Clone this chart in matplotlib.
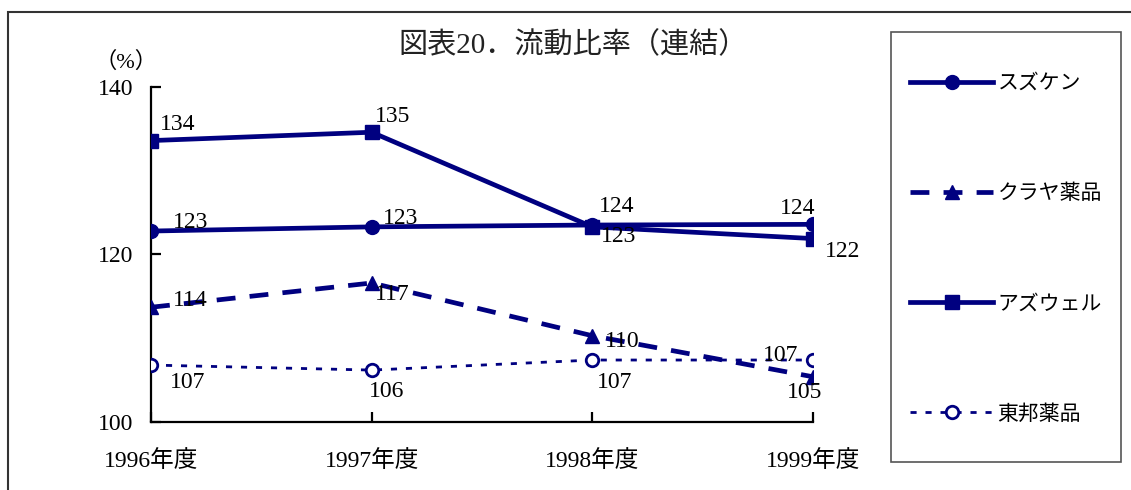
import matplotlib
matplotlib.use("Agg")
import matplotlib.pyplot as plt
from matplotlib.patches import Rectangle

plt.rcParams['font.family'] = ['Liberation Serif', 'Noto Sans CJK JP']

years = ["1996年度", "1997年度", "1998年度", "1999年度"]
suzuken = [122.8, 123.3, 123.52, 123.6]
kuraya = [113.7, 116.6, 110.3, 105.4]
azwell = [133.6, 134.6, 123.3, 121.9]
toho = [106.8, 106.2, 107.4, 107.4]

navy = "#000080"
x = list(range(len(years)))

fig = plt.figure(figsize=(11.31, 4.90), dpi=100)
ax = fig.add_axes([151 / 1131, 68 / 490, 662 / 1131, 335 / 490])

ax.plot(x, suzuken, color=navy, lw=3.4, marker='o', ms=10, label="スズケン", zorder=3)
ax.plot(x, kuraya, color=navy, lw=3.4, ls=(0, (4, 3)), marker='^', ms=10,
        label="クラヤ薬品", zorder=3)
ax.plot(x, azwell, color=navy, lw=3.4, marker='s', ms=10, label="アズウェル", zorder=3)
ax.plot(x, toho, color=navy, lw=2.0, ls=(0, (2.2, 3.2)), marker='o', ms=9,
        mfc='white', mec=navy, mew=2, label="東邦薬品", zorder=3)

# value labels: (dx, dy, ha) in pixels relative to each point
offs = {
    "suzuken": [(22, 9, 'left'), (11, 8, 'left'), (7, 19, 'left'), (2, 16, 'right')],
    "azwell": [(9, 16, 'left'), (3, 16, 'left'), (9, -10, 'left'), (12, -13, 'left')],
    "kuraya": [(22, 7, 'left'), (3, -12, 'left'), (13, -6, 'left'), (-8, -16, 'center')],
    "toho": [(19, -17, 'left'), (15, -21, 'center'), (22, -22, 'center'), (-15, 5, 'right')],
}
for key, vals in [("suzuken", suzuken), ("azwell", azwell), ("kuraya", kuraya), ("toho", toho)]:
    for i, v in enumerate(vals):
        dx, dy, ha = offs[key][i]
        ax.annotate(f"{v:.0f}", (x[i], v), xytext=(dx, dy), textcoords='offset pixels',
                    ha=ha, va='center', fontsize=17, color='black', zorder=4)

ax.set_xlim(0, 3)
ax.set_ylim(100, 140)
ax.set_yticks([100, 120, 140])
ax.set_xticks(x)
ax.set_xticklabels(years)
for s in ['top', 'right']:
    ax.spines[s].set_visible(False)
for s in ['left', 'bottom']:
    ax.spines[s].set_linewidth(1.6)
ax.tick_params(axis='y', direction='in', length=7, width=1.6, pad=13, labelsize=17)
ax.tick_params(axis='x', direction='in', length=7, width=1.6, pad=20, labelsize=17)

fig.text(126 / 1131, 1 - 62 / 490, "（%）", ha='center', va='center', fontsize=16)
fig.text(573 / 1131, 1 - 45 / 490, "図表20．流動比率（連結）", ha='center', va='center',
         fontsize=21, color='#222222')

# outer frame
fig.patches.append(Rectangle((8 / 1131, -0.2), 1.2, 1.2 - 12 / 490, fill=False,
                             lw=1.5, ec='#333333', transform=fig.transFigure))
# legend box
fig.patches.append(Rectangle((891 / 1131, 28 / 490), 230 / 1131, 430 / 490, fill=False,
                             lw=1.2, ec='#555555', transform=fig.transFigure))
handles, labels = ax.get_legend_handles_labels()
fig.legend(handles, labels, loc='center', bbox_to_anchor=(1006 / 1131, 1 - 249.5 / 490),
           frameon=False, fontsize=15, labelspacing=4.35, handlelength=4.0,
           handletextpad=0.2, borderpad=0)

fig.savefig("out.png", dpi=100)
